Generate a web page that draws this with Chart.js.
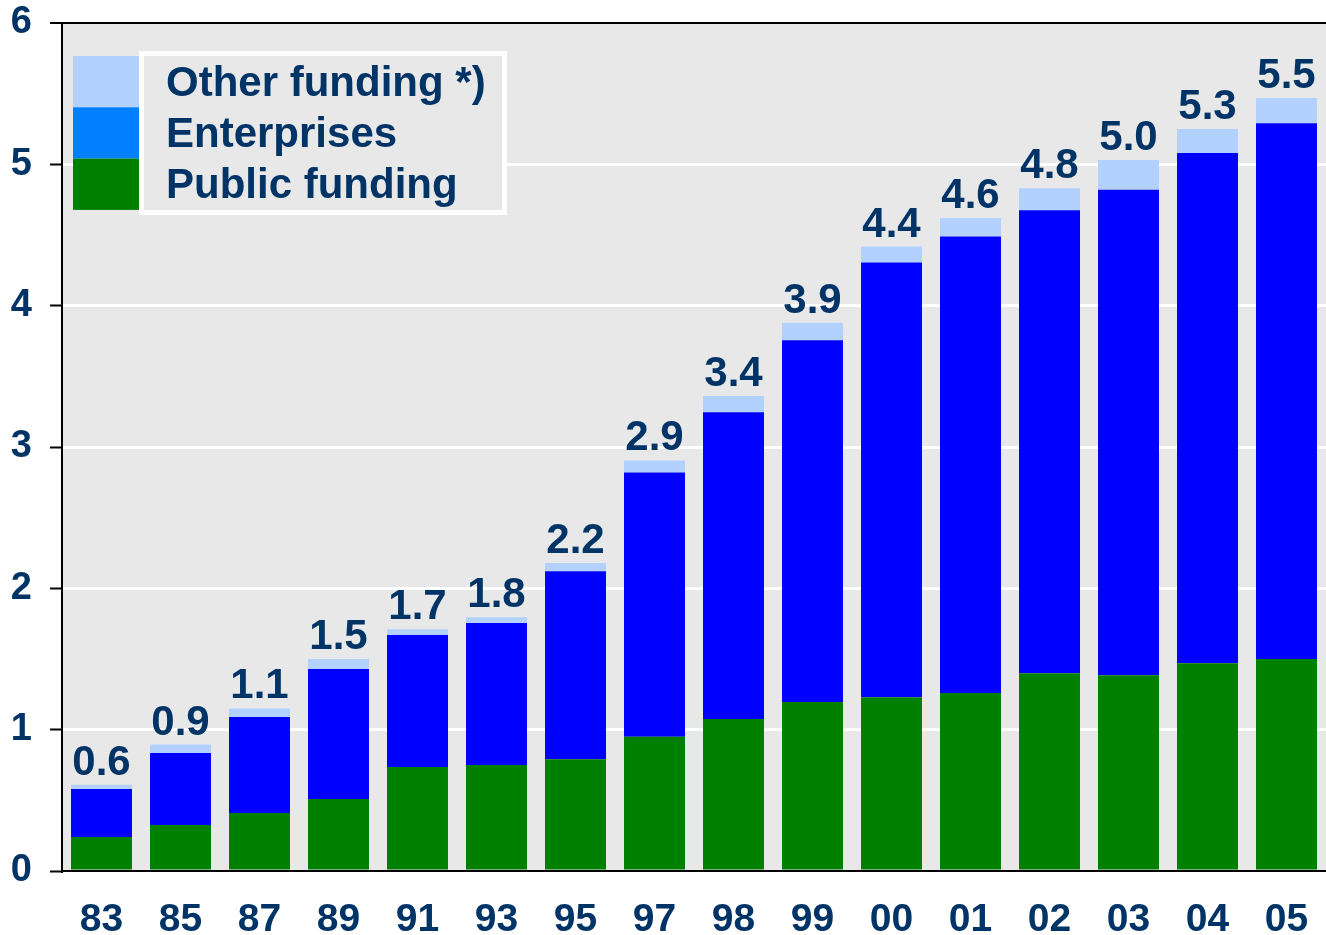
<!DOCTYPE html>
<html>
<head>
<meta charset="utf-8">
<script src="https://cdn.jsdelivr.net/npm/chart.js@4/dist/chart.umd.min.js"></script>
<style>
    html, body { margin: 0; padding: 0; background: #ffffff; }
    #wrap { width: 1326px; height: 935px; position: relative; }
</style>
</head>
<body>
<div id="wrap"><canvas id="fundingChart"></canvas></div>
<script>
// Funding by source, stacked per year
const years = ['83', '85', '87', '89', '91', '93', '95', '97', '98', '99', '00', '01', '02', '03', '04', '05'];
const publicFunding = [0.24, 0.325, 0.41, 0.51, 0.735, 0.75, 0.79, 0.95, 1.075, 1.195, 1.23, 1.26, 1.40, 1.385, 1.47, 1.50];
const enterprises = [0.34, 0.51, 0.68, 0.92, 0.935, 1.005, 1.33, 1.87, 2.17, 2.56, 3.075, 3.23, 3.275, 3.435, 3.61, 3.79];
const otherFunding = [0.03, 0.06, 0.06, 0.07, 0.04, 0.04, 0.06, 0.085, 0.115, 0.125, 0.113, 0.13, 0.155, 0.21, 0.17, 0.18];
const totalLabels = ['0.6', '0.9', '1.1', '1.5', '1.7', '1.8', '2.2', '2.9', '3.4', '3.9', '4.4', '4.6', '4.8', '5.0', '5.3', '5.5'];
const yTicks = [0, 1, 2, 3, 4, 5, 6];

const legendItems = [
    { label: 'Other funding *)', color: '#b3d1ff' },
    { label: 'Enterprises', color: '#0080ff' },
    { label: 'Public funding', color: '#008000' }
];

const textColor = '#003366';
const fontFamily = '"Liberation Sans", Arial, sans-serif';

// Grey plot background
const plotBackground = {
    id: 'plotBackground',
    beforeDraw(chart) {
        const { ctx, chartArea } = chart;
        ctx.save();
        ctx.fillStyle = '#e8e8e8';
        ctx.fillRect(chartArea.left, chartArea.top, chartArea.right - chartArea.left, chartArea.bottom - chartArea.top);
        ctx.restore();
    }
};

// Total on top of each stack
const totalsPlugin = {
    id: 'totals',
    afterDatasetsDraw(chart) {
        const { ctx } = chart;
        const lastMeta = chart.getDatasetMeta(chart.data.datasets.length - 1);
        ctx.save();
        ctx.fillStyle = textColor;
        ctx.font = 'bold 42px ' + fontFamily;
        ctx.textAlign = 'center';
        ctx.textBaseline = 'alphabetic';
        lastMeta.data.forEach((bar, i) => {
            ctx.fillText(totalLabels[i], bar.x, bar.y - 10);
        });
        ctx.restore();
    }
};

// Legend box in the top left corner
const legendBox = {
    id: 'legendBox',
    afterDraw(chart) {
        const { ctx } = chart;
        ctx.save();
        // white framed box
        ctx.fillStyle = '#e8e8e8';
        ctx.fillRect(141, 53, 364, 160);
        ctx.strokeStyle = '#ffffff';
        ctx.lineWidth = 5;
        ctx.strokeRect(141.5, 53.5, 363, 159);
        // swatches + text
        ctx.font = 'bold 42px ' + fontFamily;
        ctx.textBaseline = 'alphabetic';
        ctx.textAlign = 'left';
        legendItems.forEach((item, i) => {
            ctx.fillStyle = item.color;
            ctx.fillRect(73, 56 + i * 51.3, 66, 51.3);
            ctx.fillStyle = textColor;
            ctx.fillText(item.label, 166, 96 + i * 51);
        });
        ctx.restore();
    }
};

function createFundingChart() {
    const ctx = document.getElementById('fundingChart');

    const config = {
        type: 'bar',
        data: {
            labels: years,
            datasets: [
                { label: 'Public funding', data: publicFunding, backgroundColor: '#008000' },
                { label: 'Enterprises', data: enterprises, backgroundColor: '#0000ff' },
                { label: 'Other funding *)', data: otherFunding, backgroundColor: '#b3d1ff' }
            ].map(ds => Object.assign(ds, {
                borderWidth: 0,
                categoryPercentage: 1,
                barPercentage: 0.772
            }))
        },
        options: {
            responsive: true,
            maintainAspectRatio: false,
            animation: false,
            layout: {
                padding: { top: 23, left: 0, right: 0, bottom: 0 }
            },
            plugins: {
                legend: { display: false },
                tooltip: { enabled: false }
            },
            scales: {
                x: {
                    stacked: true,
                    grid: { display: false },
                    border: { display: true, color: '#000000', width: 2 },
                    ticks: {
                        color: textColor,
                        padding: 18,
                        font: { size: 39, weight: 'bold', family: fontFamily }
                    },
                    afterFit(scale) {
                        scale.height = 64;
                        scale.paddingLeft = 0;
                        scale.paddingRight = 0;
                    }
                },
                y: {
                    stacked: true,
                    min: 0,
                    max: 6,
                    afterBuildTicks(scale) {
                        scale.ticks = yTicks.map(v => ({ value: v }));
                    },
                    grid: {
                        color: ctx => (ctx.tick && ctx.tick.value === 6 ? '#000000' : '#ffffff'),
                        lineWidth: ctx => (ctx.tick && ctx.tick.value === 6 ? 2 : 3),
                        tickColor: '#000000',
                        tickLength: 12,
                        tickWidth: 2
                    },
                    border: { display: true, color: '#000000', width: 2 },
                    ticks: {
                        color: textColor,
                        padding: 18,
                        font: { size: 38, weight: 'bold', family: fontFamily }
                    },
                    afterFit(scale) {
                        scale.width = 62;
                        scale.paddingTop = 0;
                        scale.paddingBottom = 0;
                    }
                }
            }
        },
        plugins: [plotBackground, totalsPlugin, legendBox]
    };

    new Chart(ctx, config);
}

createFundingChart();
</script>
</body>
</html>
